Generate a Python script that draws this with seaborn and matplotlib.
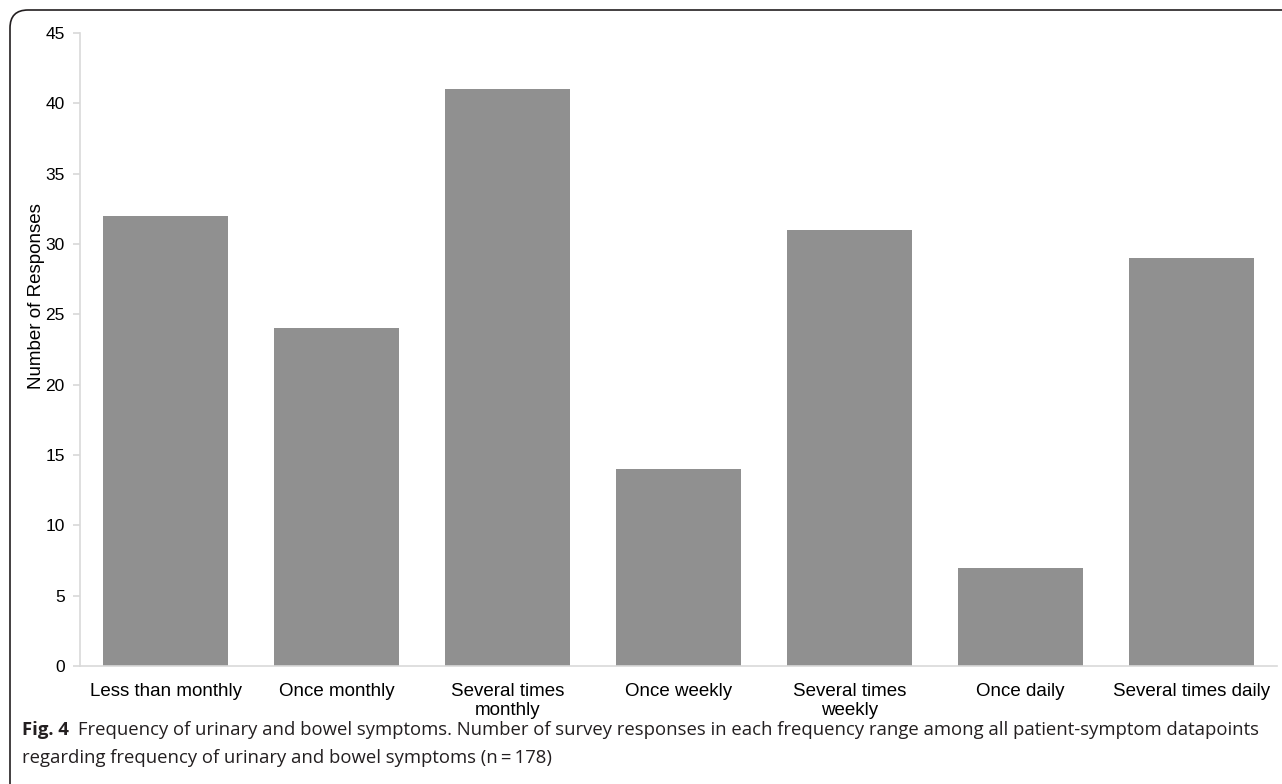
import matplotlib
matplotlib.use("Agg")
import matplotlib.pyplot as plt
import seaborn as sns
import pandas as pd
from matplotlib.path import Path
from matplotlib.patches import PathPatch

categories = ["Less than monthly", "Once monthly", "Several times\nmonthly",
              "Once weekly", "Several times\nweekly", "Once daily", "Several times daily"]
responses = [32, 24, 41, 14, 31, 7, 29]
yticks = [0, 5, 10, 15, 20, 25, 30, 35, 40, 45]

sns.set_theme(style="white")
plt.rcParams['font.family'] = ['Liberation Sans', 'DejaVu Sans']

df = pd.DataFrame({"cat": categories, "n": responses})

fig = plt.figure(figsize=(12.82, 7.84), dpi=100)
W, H = 1282, 784
ax_l, ax_r, ax_t, ax_b = 80, 1277, 33, 666
ax = fig.add_axes([ax_l / W, 1 - ax_b / H, (ax_r - ax_l) / W, (ax_b - ax_t) / H])

sns.barplot(data=df, x="cat", y="n", color="#909090", saturation=1, width=0.73,
            linewidth=0, ax=ax)

ax.set_ylim(0, 45)
ax.set_yticks(yticks)
ax.set_xlim(-0.5, len(categories) - 0.5)
ax.set_xlabel("")
ax.set_ylabel("Number of Responses", fontsize=13.5, color="#000000")
ax.yaxis.set_label_coords((45 - ax_l) / (ax_r - ax_l), (ax_b - 296) / (ax_b - ax_t))
for s in ["top", "right"]:
    ax.spines[s].set_visible(False)
for s in ["left", "bottom"]:
    ax.spines[s].set_color("#d9d9d9")
    ax.spines[s].set_linewidth(1.2)
ax.tick_params(axis="y", which="both", left=True, length=5, color="#d9d9d9",
               labelsize=12.5, labelcolor="#000000", pad=6)
ax.tick_params(axis="x", bottom=False, labelsize=13.5, labelcolor="#000000", pad=6)
for lab in ax.get_xticklabels():
    lab.set_linespacing(1.15)

# caption
cap_font = ['Open Sans', 'DejaVu Sans']
fig.text(22 / W, 1 - 730 / H, "Fig. 4", fontsize=13.3, fontweight="bold", va="center", ha="left",
         family=cap_font, color="#231f20")
fig.text(78 / W, 1 - 730 / H,
         "Frequency of urinary and bowel symptoms. Number of survey responses in each frequency range among all patient-symptom datapoints",
         fontsize=13.3, va="center", ha="left", family=cap_font, color="#231f20")
fig.text(22 / W, 1 - 758 / H,
         "regarding frequency of urinary and bowel symptoms (n\u2009=\u2009178)",
         fontsize=13.3, va="center", ha="left", family=cap_font, color="#231f20")

# rounded border (top and left)
r = 18
x0, y0 = 10, 10
verts = [(x0 / W, 1 - (H + 5) / H), (x0 / W, 1 - (y0 + r) / H),
         (x0 / W, 1 - y0 / H), ((x0 + r) / W, 1 - y0 / H), ((W + 5) / W, 1 - y0 / H)]
codes = [Path.MOVETO, Path.LINETO, Path.CURVE3, Path.CURVE3, Path.LINETO]
fig.patches.append(PathPatch(Path(verts, codes), transform=fig.transFigure, fill=False,
                             edgecolor="#231f20", linewidth=1.2, figure=fig))

fig.savefig("out.png", dpi=100)
